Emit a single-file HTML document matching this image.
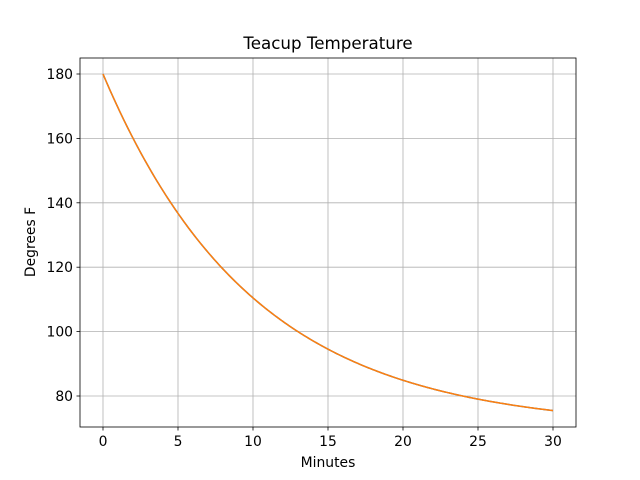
<!DOCTYPE html>
<html><head><meta charset="utf-8"><style>
body{margin:0;background:#fff}
svg{display:block;font-family:"DejaVu Sans","Liberation Sans",sans-serif}
</style></head><body>
<svg id="s" width="640" height="480" xmlns="http://www.w3.org/2000/svg">
<rect width="640" height="480" fill="#fff"/>
<g id="grid" stroke="#b0b0b0" stroke-width="0.8"></g>
<path id="c1" fill="none" stroke="#1f77b4" stroke-width="1.5"/>
<path id="c2" fill="none" stroke="#ff7f0e" stroke-width="1.5"/>
<rect x="80" y="58" width="496" height="369" fill="none" stroke="#000" stroke-width="0.8"/>
<g id="ticks" font-size="13.9" fill="#000"></g>
<text x="328" y="49" text-anchor="middle" font-size="16.7">Teacup Temperature</text>
<text x="328" y="467" text-anchor="middle" font-size="13.9">Minutes</text>
<text transform="translate(35,242) rotate(-90)" text-anchor="middle" font-size="13.9">Degrees F</text>
</svg>
<script>
var ns="http://www.w3.org/2000/svg";
function X(t){return 103+t*15}
function Y(v){return 74+(180-v)*3.22}
var g=document.getElementById('grid'),tk=document.getElementById('ticks');
function el(p,tag,a,txt){var e=document.createElementNS(ns,tag);for(var k in a)e.setAttribute(k,a[k]);if(txt!=null)e.textContent=txt;p.appendChild(e);}
for(var t=0;t<=30;t+=5){var x=X(t);el(g,'line',{x1:x,x2:x,y1:58,y2:427});el(tk,'line',{x1:x,x2:x,y1:427,y2:430.5,stroke:'#000','stroke-width':0.8});el(tk,'text',{x:x,y:446,'text-anchor':'middle'},t);}
for(var v=80;v<=180;v+=20){var y=Y(v);el(g,'line',{x1:80,x2:576,y1:y,y2:y});el(tk,'line',{x1:76.5,x2:80,y1:y,y2:y,stroke:'#000','stroke-width':0.8});el(tk,'text',{x:73,y:y+5,'text-anchor':'end'},v);}
var d='';for(var i=0;i<=300;i++){var t=i/10;var v=70+110*Math.exp(-0.1*t);d+=(i?'L':'M')+X(t).toFixed(2)+','+Y(v).toFixed(2);}
document.getElementById('c1').setAttribute('d',d);document.getElementById('c2').setAttribute('d',d);
</script>
</body></html>
